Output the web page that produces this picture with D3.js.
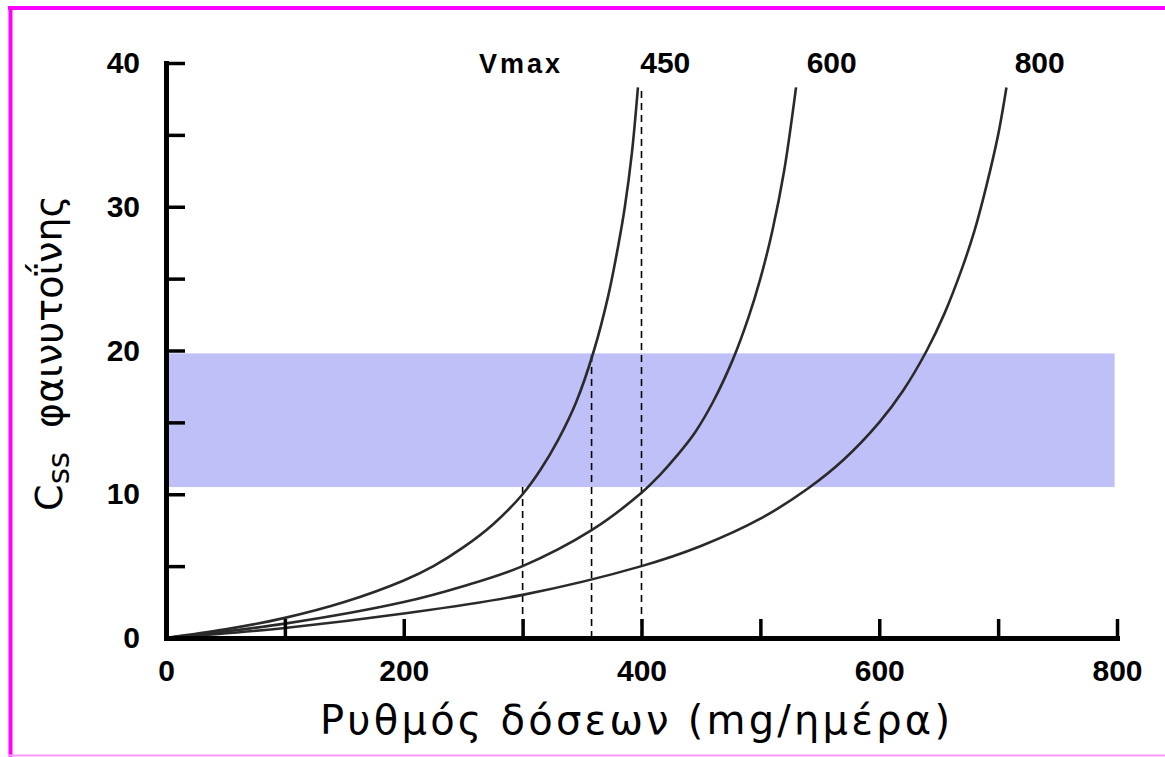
<!DOCTYPE html>
<html>
<head>
<meta charset="utf-8">
<script src="https://cdn.jsdelivr.net/npm/d3@7"></script>
<style>
  body { margin: 0; background: #fff; }
  .tick text { font-family: "Liberation Sans", Arial, sans-serif; font-weight: bold; font-size: 30px; fill: #000; }
</style>
</head>
<body>
<script>
// dose rate (mg/day) vs steady state phenytoin concentration
const curve450 = [[0, 0], [50, 0.6], [100, 1.4], [150, 2.5], [200, 4.0], [225, 5.0], [250, 6.3], [275, 7.9], [300, 10.0], [315, 11.7], [330, 13.8], [345, 16.4], [360, 20.0], [372, 23.8], [380, 27.1], [386, 30.0], [392, 33.8], [397, 38.3]];
const curve600 = [[0, 0], [100, 1.0], [200, 2.5], [250, 3.6], [300, 5.0], [358, 7.5], [400, 10.1], [415, 11.3], [430, 12.7], [445, 14.3], [460, 16.4], [477, 19.4], [490, 22.3], [500, 25.0], [510, 28.3], [520, 32.5], [530, 38.3]];
const curve800 = [[0, 0], [100, 0.7], [200, 1.7], [300, 3.0], [400, 5.0], [450, 6.4], [500, 8.3], [540, 10.4], [570, 12.4], [600, 15.0], [620, 17.2], [640, 20.0], [655, 22.6], [670, 25.8], [680, 28.3], [690, 31.4], [700, 35.0], [707, 38.3]];
const vmaxLabels = ["450", "600", "800"];
const vmaxLabelX = [420, 560, 735];
const dashX = [300, 358, 400];
const dashTop = [10.5, 19.7, 38.3];
const band = [10.5, 19.8];
const xTicks = [0, 100, 200, 300, 400, 500, 600, 700, 800];
const xLabels = [0, 200, 400, 600, 800];
const yTicks = [0, 5, 10, 15, 20, 25, 30, 35, 40];
const yLabels = [0, 10, 20, 30, 40];

const width = 1165, height = 757;
const mLeft = 166, mRight = 1117, mTop = 63, mBottom = 638;

const svg = d3.select("body").append("svg")
  .attr("width", width)
  .attr("height", height);

const x = d3.scaleLinear().domain([0, 800]).range([mLeft, mRight]);
const y = d3.scaleLinear().domain([0, 40]).range([mBottom, mTop]);

// magenta frame
svg.append("line").attr("x1", 8).attr("x2", width).attr("y1", 8).attr("y2", 8)
  .attr("stroke", "#ff00ff").attr("stroke-width", 4);
svg.append("line").attr("x1", 10.5).attr("x2", 10.5).attr("y1", 6).attr("y2", height)
  .attr("stroke", "#ff00ff").attr("stroke-width", 4);
svg.append("line").attr("x1", 8).attr("x2", width).attr("y1", 755.5).attr("y2", 755.5)
  .attr("stroke", "#ff99ff").attr("stroke-width", 2);

// therapeutic band
svg.append("rect")
  .attr("x", x(0))
  .attr("y", y(band[1]))
  .attr("width", x(798) - x(0))
  .attr("height", y(band[0]) - y(band[1]))
  .attr("fill", "#c0c0f8");

// dashed guides
svg.selectAll(".guide")
  .data(dashX)
  .join("line")
  .attr("class", "guide")
  .attr("x1", d => x(d)).attr("x2", d => x(d))
  .attr("y1", y(0))
  .attr("y2", (d, i) => y(dashTop[i]))
  .attr("stroke", "#000")
  .attr("stroke-width", 1.6)
  .attr("stroke-dasharray", "7,5");

// curves
const line = d3.line()
  .x(d => x(d[0]))
  .y(d => y(d[1]))
  .curve(d3.curveCatmullRom.alpha(0.5));

svg.selectAll(".curve")
  .data([curve450, curve600, curve800])
  .join("path")
  .attr("class", "curve")
  .attr("d", line)
  .attr("fill", "none")
  .attr("stroke", "#2a2a2a")
  .attr("stroke-width", 2.6);

// x axis: ticks every 100, labels every 200
svg.append("g")
  .attr("transform", `translate(0,${mBottom})`)
  .call(d3.axisBottom(x).tickValues(xTicks).tickSize(-19).tickSizeOuter(0).tickFormat(""));
const xLabelAxis = svg.append("g")
  .attr("transform", `translate(0,${mBottom})`)
  .call(d3.axisBottom(x).tickValues(xLabels).tickSize(0).tickPadding(22).tickFormat(d3.format("d")));
xLabelAxis.select(".domain").remove();

svg.append("g")
  .attr("transform", `translate(${mLeft},0)`)
  .call(d3.axisLeft(y).tickValues(yTicks).tickSize(-19).tickSizeOuter(0).tickFormat(""));
const yLabelAxis = svg.append("g")
  .attr("transform", `translate(${mLeft},0)`)
  .call(d3.axisLeft(y).tickValues(yLabels).tickSize(0).tickPadding(26).tickFormat(d3.format("d")));
yLabelAxis.select(".domain").remove();

svg.selectAll(".domain").attr("stroke", "#000").attr("stroke-width", 5).attr("stroke-linecap", "square");
svg.selectAll(".tick line").attr("stroke", "#000").attr("stroke-width", 3.5);

// Vmax labels
svg.append("text")
  .attr("x", 521).attr("y", 73)
  .attr("text-anchor", "middle")
  .style("font-family", "Liberation Sans, Arial, sans-serif")
  .style("font-weight", "bold")
  .style("font-size", "27px")
  .style("letter-spacing", "3px")
  .text("Vmax");

svg.selectAll(".vlabel")
  .data(vmaxLabels)
  .join("text")
  .attr("class", "vlabel")
  .attr("x", (d, i) => x(vmaxLabelX[i]))
  .attr("y", 73)
  .attr("text-anchor", "middle")
  .style("font-family", "Liberation Sans, Arial, sans-serif")
  .style("font-weight", "bold")
  .style("font-size", "30px")
  .text(d => d);

// axis titles
svg.append("text")
  .attr("x", 635).attr("y", 734)
  .attr("text-anchor", "middle")
  .attr("textLength", 630)
  .attr("lengthAdjust", "spacing")
  .style("font-family", "DejaVu Sans, Verdana, sans-serif")
  .style("font-size", "40px")
  .text("Ρυθμός δόσεων (mg/ημέρα)");

const yTitle = svg.append("text")
  .attr("transform", "translate(62,353) rotate(-90)")
  .attr("text-anchor", "middle")
  .style("font-family", "DejaVu Sans, Verdana, sans-serif")
  .style("font-size", "38px")
  .attr("xml:space", "preserve");
yTitle.append("tspan").text("C");
yTitle.append("tspan").attr("dy", 7).style("font-size", "31px").text("ss");
yTitle.append("tspan").attr("dy", -7).text("  φαινυτοΐνης");
</script>
</body>
</html>
